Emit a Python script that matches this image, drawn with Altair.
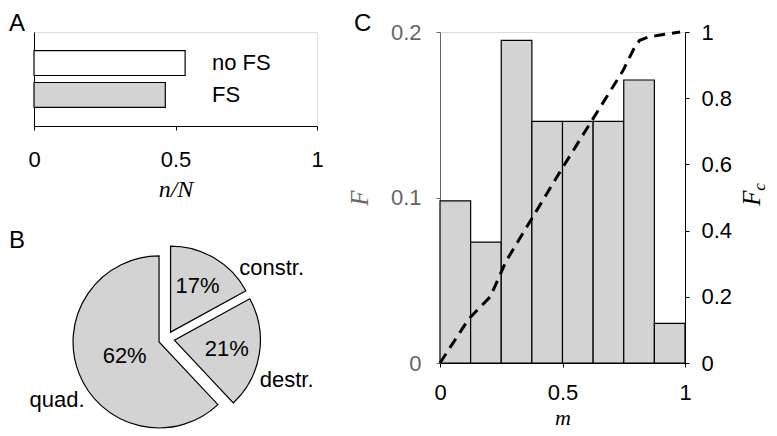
import altair as alt
import pandas as pd

SANS = "Liberation Sans"
SERIF = "Liberation Serif"
GRAY = "#d3d3d3"
AXGRAY = "#666666"

# ---------------- data ----------------
# Panel A
groups = ["no FS", "FS"]
fractions = [0.534, 0.464]

# Panel B
pie_labels = ["constr.", "destr.", "quad."]
pie_pcts = [17, 21, 62]

# Panel C
bin_lo = [0.0, 0.125, 0.25, 0.375, 0.5, 0.625, 0.75, 0.875]
bin_hi = [0.125, 0.25, 0.375, 0.5, 0.625, 0.75, 0.875, 1.0]
freq = [0.098, 0.073, 0.195, 0.146, 0.146, 0.146, 0.171, 0.024]

cdf_m = [0.0, 0.117, 0.205, 0.27, 0.5, 0.746, 0.795, 0.815, 0.85, 0.98]
cdf_f = [0.0, 0.133, 0.2, 0.308, 0.59, 0.882, 0.955, 0.975, 0.985, 1.0]

# ---------------- panel A (+ pie B drawn in the same frame) ----------------
WA, HA = 283, 94

dfA = pd.DataFrame({"group": groups, "frac": fractions})

yA = alt.Y("group:N", sort=groups,
           scale=alt.Scale(paddingInner=0.22, paddingOuter=0.58),
           axis=alt.Axis(labels=False, ticks=False, title=None,
                         domainColor="black", domainWidth=1))
xA = alt.X("frac:Q", scale=alt.Scale(domain=[0, 1], nice=False),
           axis=alt.Axis(values=[0, 0.5, 1], format="~g", grid=False,
                         labelFlush=False, labelOverlap=False,
                         labelFont=SANS, labelFontSize=22, labelColor="black",
                         labelBaseline="alphabetic", labelPadding=36,
                         tickSize=4, tickColor="black", domainColor="black",
                         title="n/N", titleFont=SERIF, titleFontStyle="italic",
                         titleFontWeight="normal", titleFontSize=24,
                         titleColor="black", titleX=WA / 2, titleY=70,
                         titleAlign="center", titleBaseline="alphabetic"))

barsA = alt.Chart(dfA).mark_bar(stroke="black", strokeWidth=1.2).encode(
    x=xA, y=yA,
    fill=alt.Fill("group:N", scale=alt.Scale(domain=groups, range=["white", GRAY]),
                  legend=None))
textA = alt.Chart(dfA).mark_text(align="left", baseline="middle", font=SANS,
                                 fontSize=22, color="black").encode(
    y=yA, x=alt.value(178), text="group:N")

CX, CY = 132.5, 307
R = 86
EXP = 8

dfB = pd.DataFrame({"label": pie_labels, "pct": pie_pcts})
pie = (alt.Chart(dfB)
       .transform_joinaggregate(total="sum(pct)")
       .transform_window(cum="sum(pct)", frame=[None, 0])
       .transform_calculate(t0="2*PI*(datum.cum - datum.pct)/datum.total")
       .transform_calculate(t1="2*PI*datum.cum/datum.total")
       .transform_calculate(mid="(datum.t0 + datum.t1)/2")
       .transform_calculate(px=f"{CX} + {EXP}*sin(datum.mid)")
       .transform_calculate(py=f"{CY} - {EXP}*cos(datum.mid)"))

arcs = pie.mark_arc(radius=R, fill=GRAY, stroke="black", strokeWidth=1.2).encode(
    theta=alt.Theta("t0:Q", scale=None, stack=None),
    theta2=alt.Theta2("t1:Q"),
    x=alt.X("px:Q", scale=None, axis=None),
    y=alt.Y("py:Q", scale=None, axis=None))

pct_text = (pie
            .transform_calculate(rl="datum.pct > 50 ? 45 : 61")
            .transform_calculate(lx=f"{CX} + datum.rl*sin(datum.mid)")
            .transform_calculate(ly=f"{CY} - datum.rl*cos(datum.mid)")
            .transform_calculate(lab="datum.pct + '%'")
            .mark_text(font=SANS, fontSize=22, align="center", baseline="middle",
                       color="black")
            .encode(x=alt.X("lx:Q", scale=None, axis=None),
                    y=alt.Y("ly:Q", scale=None, axis=None),
                    text="lab:N"))

outer = (pie
         .transform_calculate(ang="datum.mid < PI ? datum.mid + 0.26 : datum.mid - 0.26")
         .transform_calculate(ox=f"{CX} + 102*sin(datum.ang)")
         .transform_calculate(oy=f"{CY} - 102*cos(datum.ang)"))
outer_r = outer.transform_filter("datum.mid < PI").mark_text(
    font=SANS, fontSize=22, align="left", baseline="middle", color="black").encode(
    x=alt.X("ox:Q", scale=None, axis=None), y=alt.Y("oy:Q", scale=None, axis=None),
    text="label:N")
outer_l = outer.transform_filter("datum.mid >= PI").mark_text(
    font=SANS, fontSize=22, align="right", baseline="middle", color="black").encode(
    x=alt.X("ox:Q", scale=None, axis=None), y=alt.Y("oy:Q", scale=None, axis=None),
    text="label:N")


def letter(t, x, y):
    return alt.Chart(pd.DataFrame({"t": [t]})).mark_text(
        align="left", baseline="top", font=SANS, fontSize=24,
        color="black").encode(x=alt.value(x), y=alt.value(y), text="t:N")


panelA = alt.layer(
    alt.layer(barsA, textA),
    alt.layer(arcs, pct_text, outer_r, outer_l),
    letter("A", -25, -20),
    letter("B", -25, 197),
).resolve_scale(x="independent", y="independent").properties(width=WA, height=HA)

# ---------------- panel C ----------------
WC, HC = 245, 331
dfC = pd.DataFrame({"lo": bin_lo, "hi": bin_hi, "F": freq})
dfL = pd.DataFrame({"m": cdf_m, "Fc": cdf_f})

xC_axis = alt.Axis(values=[0, 0.5, 1], format="~g", grid=False,
                   labelFlush=False, labelOverlap=False,
                   labelFont=SANS, labelFontSize=22, labelColor="black",
                   labelBaseline="alphabetic", labelPadding=32,
                   tickSize=4, tickColor="black", domainColor="black",
                   title="m", titleFont=SERIF, titleFontStyle="italic",
                   titleFontWeight="normal", titleFontSize=22, titleColor="black",
                   titleX=WC / 2, titleY=61, titleAlign="center",
                   titleBaseline="alphabetic")
xC_scale = alt.Scale(domain=[0, 1], nice=False)

barsC = alt.Chart(dfC).mark_rect(fill=GRAY, stroke="black", strokeWidth=1.2).encode(
    x=alt.X("lo:Q", scale=xC_scale, axis=xC_axis),
    x2="hi:Q",
    y=alt.Y("F:Q", scale=alt.Scale(domain=[0, 0.2], nice=False),
            axis=alt.Axis(orient="left", values=[0, 0.1, 0.2], format="~g",
                          grid=False, labelFont=SANS, labelFontSize=22,
                          labelColor=AXGRAY, labelPadding=15, tickSize=4,
                          tickColor=AXGRAY, domainColor=AXGRAY,
                          title="F", titleFont=SERIF, titleFontStyle="italic",
                          titleFontWeight="normal", titleFontSize=25,
                          titleColor=AXGRAY, titleAngle=270, titleX=-73,
                          titleY=HC / 2, titleAlign="center",
                          titleBaseline="alphabetic")),
    y2=alt.datum(0))

lineC = alt.Chart(dfL).mark_line(color="black", strokeWidth=3, strokeDash=[11, 7],
                                  strokeCap="butt").encode(
    x=alt.X("m:Q", scale=xC_scale, axis=xC_axis),
    y=alt.Y("Fc:Q", scale=alt.Scale(domain=[0, 1], nice=False),
            axis=alt.Axis(orient="right", values=[0, 0.2, 0.4, 0.6, 0.8, 1],
                          format="~g", grid=False, labelFont=SANS,
                          labelFontSize=22, labelColor="black", labelPadding=12,
                          tickSize=4, tickColor="black", domainColor="black",
                          title="F", titleFont=SERIF, titleFontStyle="italic",
                          titleFontWeight="normal", titleFontSize=25,
                          titleColor="black", titleAngle=270, titleX=74,
                          titleY=HC / 2, titleAlign="center",
                          titleBaseline="alphabetic")))

c_sub = alt.Chart(pd.DataFrame({"t": ["c"]})).mark_text(
    font=SERIF, fontStyle="italic", fontSize=17, angle=270, align="center",
    baseline="alphabetic", color="black").encode(
    x=alt.value(325), y=alt.value(155), text="t:N")

panelC = alt.layer(barsC, lineC, c_sub, letter("C", -86, -20)).resolve_scale(
    y="independent").properties(width=WC, height=HC)

chart = alt.hconcat(panelA, panelC, spacing=123, bounds="flush").properties(
    padding={"top": 3, "left": 0, "right": 0, "bottom": 0}
).configure_view(stroke=None).configure(background="white")

chart.save("out.html", embed_options={"renderer": "svg", "actions": False})
